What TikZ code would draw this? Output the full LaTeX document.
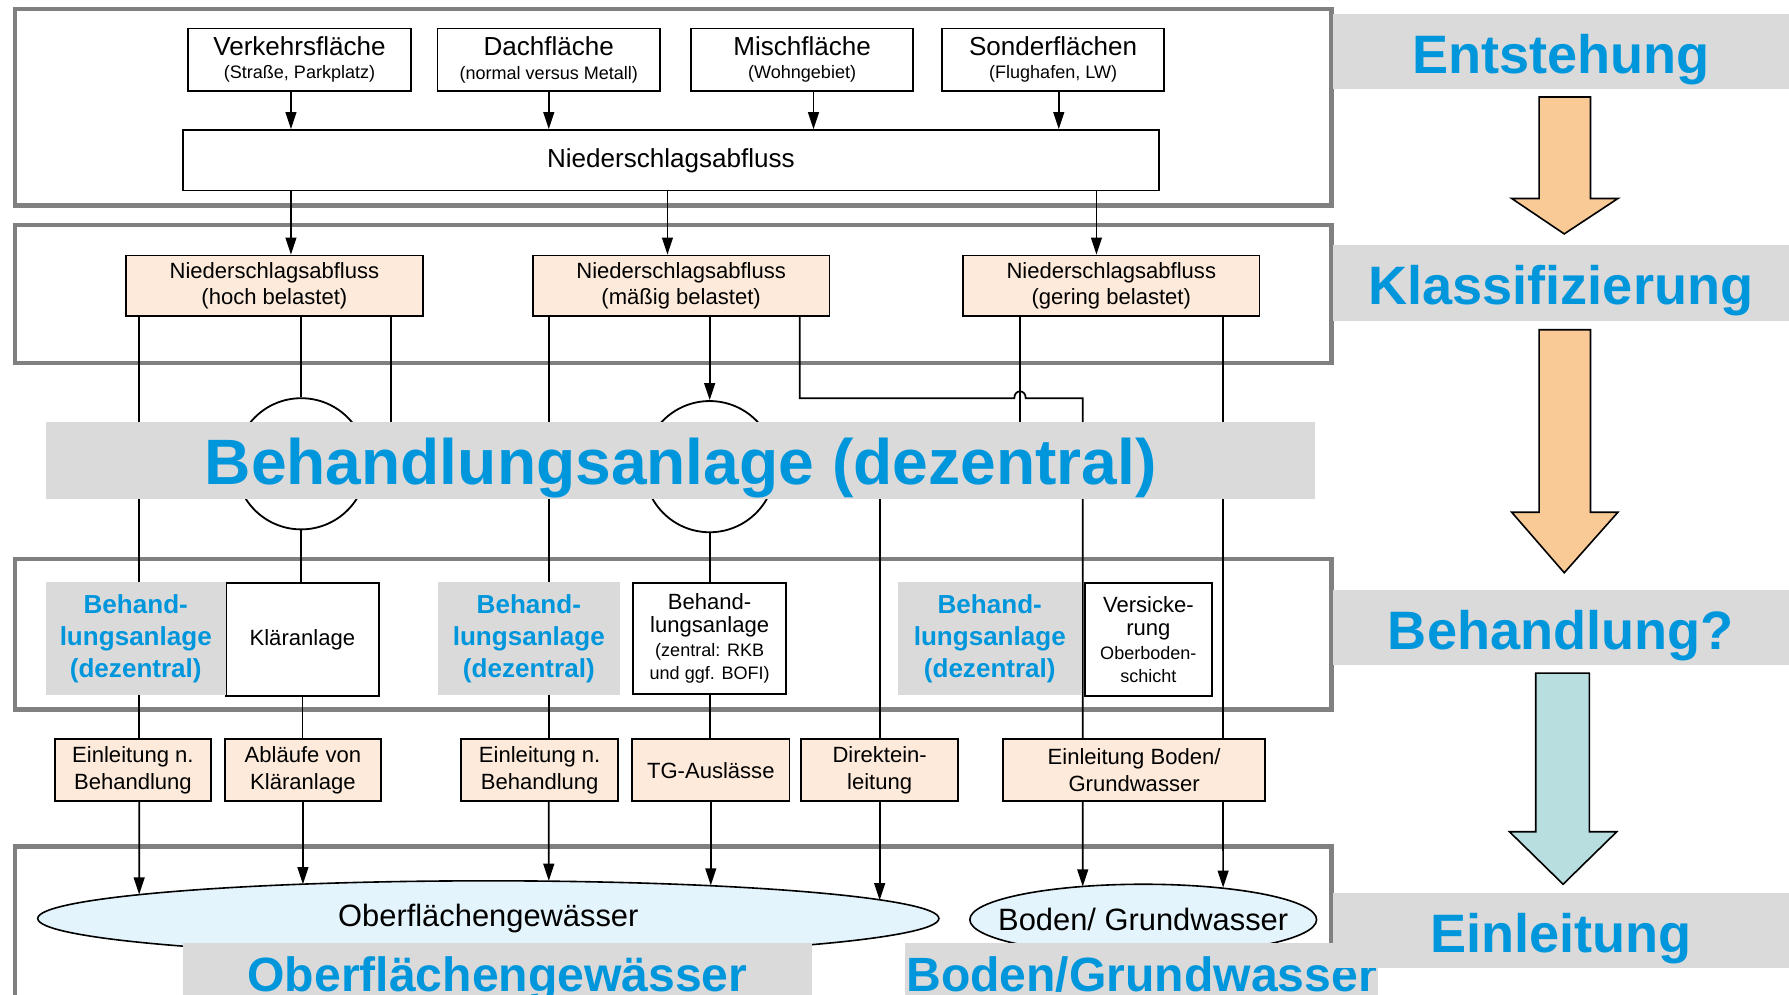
\documentclass[tikz,border=0pt]{standalone}
\usepackage{fontspec}
\setmainfont{Liberation Sans}
\usepackage{tikz}
\usetikzlibrary{arrows.meta,positioning,shapes.geometric}
\definecolor{FlowFrameGrey}{RGB}{128,128,128}
\definecolor{FlowBannerGrey}{RGB}{218,218,218}
\definecolor{FlowBlue}{RGB}{0,150,220}
\definecolor{FlowPeach}{RGB}{253,234,218}
\definecolor{FlowWater}{RGB}{228,244,252}
\definecolor{FlowOrange}{RGB}{250,202,150}
\definecolor{FlowTeal}{RGB}{184,222,224}

\begin{document}
\begin{tikzpicture}[
x=0.02cm,y=-0.02cm,
frame/.style={draw=FlowFrameGrey,line width=2.2pt},
box/.style={
draw,
line width=0.9pt,
fill=white,
inner sep=0pt,
align=center,
minimum width=3.9cm,
minimum height=1.1cm,
font=\fontsize{13}{11.5}\selectfont
},
classbox/.style={
box,
fill=FlowPeach,
minimum width=5.2cm,
minimum height=1.06cm,
font=\fontsize{11}{13}\selectfont
},
outbox/.style={
box,
fill=FlowPeach,
minimum width=2.74cm,
minimum height=1.08cm,
font=\fontsize{11}{13.5}\selectfont
},
plantbox/.style={
box,
minimum width=2.68cm,
minimum height=1.98cm,
font=\fontsize{11}{11.6}\selectfont
},
tank/.style={draw,line width=0.9pt,fill=white,circle,minimum size=2.3cm,inner sep=0pt},
water/.style={draw,line width=0.8pt,fill=FlowWater,ellipse,inner sep=0pt,font=\fontsize{15.4}{16}\selectfont},
banner/.style={fill=FlowBannerGrey,text=FlowBlue,inner sep=0pt,align=center,font=\bfseries},
sidebanner/.style={
banner,
minimum width=8cm,
minimum height=1.32cm,
text height=0.8cm,
text depth=0.04cm,
font=\fontsize{27}{27}\selectfont\bfseries
},
smallbanner/.style={
banner,
minimum width=3.16cm,
minimum height=1.98cm,
font=\fontsize{13}{16}\selectfont\bfseries
},
bottombanner/.style={
banner,
anchor=north,
minimum height=1.2cm,
text height=0.82cm,
text depth=0.3cm,
font=\fontsize{24}{24}\selectfont\bfseries
},
bigarrow/.style={draw,line width=0.8pt},
line/.style={line width=0.85pt},
arr/.style={line,-{Triangle[length=0.3cm,width=0.19cm]}}
]

\useasboundingbox (0,0) rectangle (1568,872);
\clip (0,0) rectangle (1568,872);

\draw[frame] (13,8) rectangle (1167,180);
\draw[frame] (13,197) rectangle (1167,318);
\draw[frame] (13,490) rectangle (1167,622);
\draw[frame] (13,890) -- (13,742) -- (1167,742) -- (1167,890);

\node[box] (verk) at (262.5,52.5) {Verkehrsfläche\\{\fontsize{9}{10}\selectfont (Straße, Parkplatz)}};
\node[box] (dach) at (481,52.5) {Dachfläche\\{\fontsize{9}{10}\selectfont (normal versus Metall)}};
\node[box] (misch) at (703,52.5) {Mischfläche\\{\fontsize{9}{10}\selectfont (Wohngebiet)}};
\node[box] (sonder) at (923,52.5) {Sonderflächen\\{\fontsize{9}{10}\selectfont (Flughafen, LW)}};

\node[box,minimum width=17.12cm,minimum height=1.06cm] (abfl) at (588,140.5) {Niederschlagsabfluss};

\node[classbox] (hoch) at (240.5,250.5) {Niederschlagsabfluss\\(hoch belastet)};
\node[classbox] (maessig) at (597,250.5) {Niederschlagsabfluss\\(mäßig belastet)};
\node[classbox] (gering) at (974,250.5) {Niederschlagsabfluss\\(gering belastet)};

\node[tank] (kreis1) at (264,406.5) {};
\node[tank] (kreis2) at (622,409) {};

\node[plantbox] (klaer) at (265,560.5) {Kläranlage};
\node[plantbox,minimum height=1.94cm] (zentral) at (622,559.5) {Behand-\\lungsanlage\\{\fontsize{9}{10}\selectfont (zentral: RKB}\\{\fontsize{9}{10}\selectfont und ggf. BOFI)}};
\node[plantbox,minimum width=2.22cm] (versick) at (1006.5,560.5) {Versicke-\\rung\\{\fontsize{9}{10}\selectfont Oberboden-}\\{\fontsize{9}{10}\selectfont schicht}};

\node[outbox] (einl1) at (116.5,675) {Einleitung n.\\Behandlung};
\node[outbox] (ablauf) at (265.5,675) {Abläufe von\\Kläranlage};
\node[outbox,minimum width=2.76cm] (einl2) at (473,675) {Einleitung n.\\Behandlung};
\node[outbox,minimum width=2.76cm] (tg) at (623,675) {TG-Auslässe};
\node[outbox,minimum width=2.76cm] (direkt) at (771,675) {Direktein-\\leitung};
\node[outbox,minimum width=4.6cm] (einlboden) at (994,675) {Einleitung Boden/\\Grundwasser};

\node[water,minimum width=15.8cm,minimum height=1.32cm] (ober) at (428,805) {\makebox[0pt]{Oberflächengewässer}};
\node[water,minimum width=6.08cm,minimum height=1.24cm] (boden) at (1002,806) {\makebox[0pt]{Boden/ Grundwasser}};

\coordinate (o1) at (122,784);
\coordinate (o2) at (265.5,775);
\coordinate (o3) at (481,772);
\coordinate (o4) at (623,776);
\coordinate (o5) at (771,789);
\coordinate (o6) at (949,777);
\coordinate (o7) at (1072,778);
\coordinate (sprung) at (894,349);

\draw[arr] ([xshift=-0.15cm]verk.south) -- ([xshift=-0.15cm]verk.south |- abfl.north);
\draw[arr] (dach.south) -- (dach.south |- abfl.north);
\draw[arr] ([xshift=0.2cm]misch.south) -- ([xshift=0.2cm]misch.south |- abfl.north);
\draw[arr] ([xshift=0.1cm]sonder.south) -- ([xshift=0.1cm]sonder.south |- abfl.north);

\draw[arr] ([xshift=0.29cm]hoch.north |- abfl.south) -- ([xshift=0.29cm]hoch.north);
\draw[arr] ([xshift=-0.24cm]maessig.north |- abfl.south) -- ([xshift=-0.24cm]maessig.north);
\draw[arr] ([xshift=-0.26cm]gering.north |- abfl.south) -- ([xshift=-0.26cm]gering.north);

\draw[line] ([xshift=0.11cm]einl1.north |- hoch.south) -- ([xshift=0.11cm]einl1.north);
\draw[arr] ([xshift=0.11cm]einl1.south) -- (o1);
\draw[line] (kreis1.north |- hoch.south) -- (kreis1.north);
\draw[line] (kreis1.south) -- (kreis1.south |- klaer.north);
\draw[line] (klaer.south) -- (klaer.south |- ablauf.north);
\draw[arr] (ablauf.south) -- (o2);
\draw[line] ([xshift=2.05cm]hoch.south) -- ([xshift=2.05cm]hoch.south |- kreis1.center);

\draw[line] ([xshift=0.16cm]einl2.north |- maessig.south) -- ([xshift=0.16cm]einl2.north);
\draw[arr] ([xshift=0.16cm]einl2.south) -- (o3);
\draw[arr] (kreis2.north |- maessig.south) -- (kreis2.north);
\draw[line] (kreis2.south) -- (kreis2.south |- zentral.north);
\draw[line] (zentral.south) -- (zentral.south |- tg.north);
\draw[arr] (tg.south) -- (o4);
\draw[line] ([xshift=2.08cm]maessig.south) |- ([xshift=-0.1cm]sprung)
.. controls +(0,0.16cm) and +(0,0.16cm) .. ([xshift=0.1cm]sprung)
-| ([xshift=-0.9cm]einlboden.north);
\draw[arr] ([xshift=-0.9cm]einlboden.south) -- (o6);
\draw[line] (direkt.north |- kreis2.center) -- (direkt.north);
\draw[arr] (direkt.south) -- (o5);

\draw[line] ([xshift=-1.6cm]gering.south) -- ([xshift=-1.6cm]gering.south |- kreis2.center);
\draw[line] ([xshift=1.56cm]einlboden.north |- gering.south) -- ([xshift=1.56cm]einlboden.north);
\draw[arr] ([xshift=1.56cm]einlboden.south) -- (o7);

\node[banner,minimum width=22.26cm,minimum height=1.34cm,text height=0.95cm,text depth=0.09cm,font=\fontsize{32}{32}\selectfont\bfseries] (titel) at (596.5,403.5) {Behandlungsanlage (dezentral)};

\node[smallbanner] (dez1) at (119,560) {Behand-\\lungsanlage\\(dezentral)};
\node[smallbanner,minimum width=3.18cm] (dez2) at (463.5,560) {Behand-\\lungsanlage\\(dezentral)};
\node[smallbanner,minimum width=3.22cm] (dez3) at (867.5,560) {Behand-\\lungsanlage\\(dezentral)};

\node[bottombanner,minimum width=11.04cm] (oberband) at (436,826) {Oberflächengewässer};
\node[bottombanner,minimum width=8.3cm] (bodenband) at (1000.5,826) {Boden/Grundwasser};

\node[sidebanner] (entst) at (1368,45) {Entstehung};
\node[sidebanner] (klass) at (1368,248) {Klassifizierung};
\node[sidebanner] (behand) at (1368,550) {Behandlung?};
\node[sidebanner] (einl) at (1368,815.5) {Einleitung};

\draw[bigarrow,fill=FlowOrange] (1349,85) -- (1394,85) -- (1394,174) -- (1418,174) -- (1371,205) -- (1325,174) -- (1349,174) -- cycle;
\draw[bigarrow,fill=FlowOrange] (1349,289) -- (1394,289) -- (1394,449) -- (1418,449) -- (1371,502) -- (1325,449) -- (1349,449) -- cycle;
\draw[bigarrow,fill=FlowTeal] (1346,590) -- (1393,590) -- (1393,729) -- (1417,729) -- (1370,775) -- (1323,729) -- (1346,729) -- cycle;

\end{tikzpicture}
\end{document}
